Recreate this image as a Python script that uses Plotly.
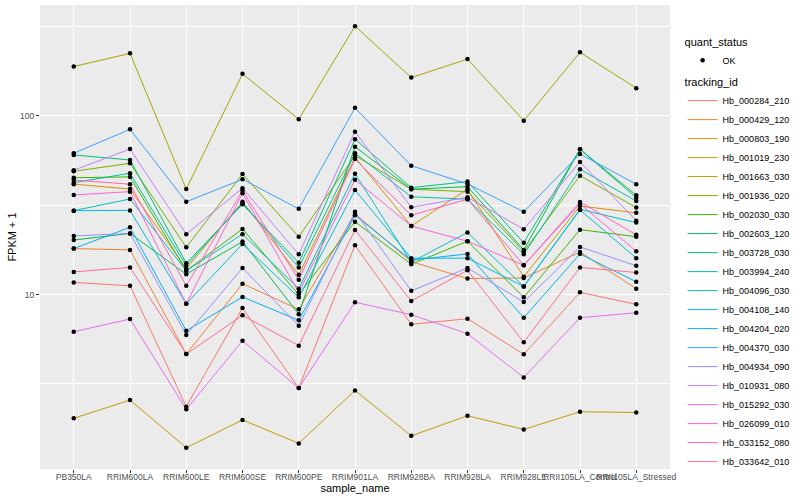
import plotly.graph_objects as go

# ---------------- data (FPKM + 1) ----------------
sample_names = ["PB350LA", "RRIM600LA", "RRIM600LE", "RRIM600SE", "RRIM600PE",
                "RRIM901LA", "RRIM928BA", "RRIM928LA", "RRIM928LE",
                "RRII105LA_Control", "RRII105LA_Stressed"]

tracking_ids = ["Hb_000284_210", "Hb_000429_120", "Hb_000803_190", "Hb_001019_230",
                "Hb_001663_030", "Hb_001936_020", "Hb_002030_030", "Hb_002603_120",
                "Hb_003728_030", "Hb_003994_240", "Hb_004096_030", "Hb_004108_140",
                "Hb_004204_020", "Hb_004370_030", "Hb_004934_090", "Hb_010931_080",
                "Hb_015292_030", "Hb_026099_010", "Hb_033152_080", "Hb_033642_010"]

hb_000284_210 = [11.7, 11.2, 2.36, 8.41, 3.00, 18.9, 6.82, 7.33, 4.63, 10.3, 8.82]
hb_000429_120 = [18.1, 17.8, 4.65, 11.5, 8.27, 28.3, 15.3, 12.3, 12.4, 17.3, 10.8]
hb_000803_190 = [41.5, 39.0, 14.0, 33.1, 12.9, 58.7, 24.2, 38.9, 12.6, 31.3, 28.7]
hb_001019_230 = [2.03, 2.57, 1.39, 1.99, 1.47, 2.91, 1.62, 2.10, 1.76, 2.21, 2.19]
hb_001663_030 = [189, 224, 39.0, 172, 95.8, 318, 164, 208, 94.1, 227, 143]
hb_001936_020 = [49.0, 54.3, 18.4, 47.3, 21.1, 60.0, 38.9, 37.7, 17.4, 46.3, 30.7]
hb_002030_030 = [45.1, 45.6, 13.6, 23.3, 10.0, 25.6, 14.8, 19.9, 9.66, 23.1, 21.1]
hb_002603_120 = [20.2, 22.0, 13.0, 19.8, 7.76, 67.3, 38.9, 40.2, 17.8, 65.1, 36.0]
hb_003728_030 = [60.5, 56.7, 15.0, 32.0, 15.1, 74.1, 39.7, 42.9, 19.5, 65.1, 34.9]
hb_003994_240 = [42.3, 47.8, 14.5, 32.6, 14.2, 61.8, 35.3, 34.2, 16.8, 50.3, 33.4]
hb_004096_030 = [29.5, 34.3, 13.6, 21.8, 10.8, 47.5, 15.2, 22.3, 11.1, 30.0, 25.3]
hb_004108_140 = [29.5, 29.6, 8.89, 19.2, 9.66, 38.5, 16.0, 16.0, 11.1, 29.8, 16.0]
hb_004204_020 = [18.1, 23.8, 6.28, 9.70, 7.18, 27.8, 15.6, 16.9, 7.42, 16.9, 11.8]
hb_004370_030 = [61.8, 84.2, 33.1, 44.2, 30.2, 111, 52.7, 41.6, 29.1, 61.3, 41.5]
hb_004934_090 = [21.3, 22.0, 5.94, 14.1, 6.70, 29.1, 10.5, 14.1, 9.09, 18.5, 14.5]
hb_010931_080 = [49.7, 65.3, 21.8, 39.4, 16.8, 81.7, 30.8, 35.1, 23.2, 55.3, 25.9]
hb_015292_030 = [6.20, 7.30, 2.28, 5.52, 3.00, 9.06, 7.72, 6.04, 3.44, 7.42, 7.92]
hb_026099_010 = [36.1, 37.7, 8.89, 36.9, 10.3, 44.0, 24.2, 19.9, 14.6, 32.2, 17.5]
hb_033152_080 = [43.8, 41.5, 11.2, 38.2, 12.1, 57.4, 27.8, 34.2, 14.6, 33.0, 21.6]
hb_033642_010 = [13.4, 14.2, 4.65, 7.66, 5.18, 23.0, 9.21, 13.7, 5.41, 14.2, 13.3]

series_values = [hb_000284_210, hb_000429_120, hb_000803_190, hb_001019_230,
                 hb_001663_030, hb_001936_020, hb_002030_030, hb_002603_120,
                 hb_003728_030, hb_003994_240, hb_004096_030, hb_004108_140,
                 hb_004204_020, hb_004370_030, hb_004934_090, hb_010931_080,
                 hb_015292_030, hb_026099_010, hb_033152_080, hb_033642_010]

y_tick_vals = [10, 100]
y_tick_text = ["10", "100"]
y_minor_vals = [3.1623, 31.623, 316.23]

# ggplot2 default hue palette for 20 levels
colors = ["#F8766D", "#EA8331", "#D89000", "#C09B00", "#A3A500", "#7CAE00",
          "#39B600", "#00BB4E", "#00BF7D", "#00C1A3", "#00BFC4", "#00BAE0",
          "#00B0F6", "#35A2FF", "#9590FF", "#C77CFF", "#E76BF3", "#FA62DB",
          "#FF62BC", "#FF6C91"]

FONT = "Liberation Sans, Arial, sans-serif"

fig = go.Figure()

# lines
for tid, vals, col in zip(tracking_ids, series_values, colors):
    fig.add_trace(go.Scatter(
        x=sample_names, y=vals, mode="lines", name=tid,
        line=dict(color=col, width=1.0), legend="legend2",
        hoverinfo="skip"))

# points (all OK)
all_x, all_y = [], []
for vals in series_values:
    all_x.extend(sample_names)
    all_y.extend(vals)
fig.add_trace(go.Scatter(
    x=all_x, y=all_y, mode="markers", name="OK",
    marker=dict(color="black", size=4.5, line=dict(width=0)),
    legend="legend"))

fig.update_layout(
    width=800, height=500,
    margin=dict(l=40, r=116, t=5, b=31),
    paper_bgcolor="white", plot_bgcolor="#EBEBEB",
    font=dict(family=FONT, size=9, color="black"),
    xaxis=dict(
        type="category", range=[-0.6, 10.6], categoryorder="array",
        categoryarray=sample_names,
        showgrid=True, gridcolor="white", gridwidth=1.1, zeroline=False,
        ticks="outside", ticklen=3, tickwidth=1, tickcolor="#333333",
        ticklabelstandoff=-3,
        tickangle=0, tickfont=dict(size=8.5, color="#4D4D4D", family=FONT),
        title=dict(text="sample_name", font=dict(size=11, color="black"), standoff=0),
        showline=False, automargin=False),
    yaxis=dict(
        type="log", range=[0.024, 2.621],
        tickvals=y_tick_vals, ticktext=y_tick_text,
        showgrid=True, gridcolor="white", gridwidth=1.1, zeroline=False,
        ticks="outside", ticklen=3, tickwidth=1, tickcolor="#333333",
        tickfont=dict(size=8.5, color="#4D4D4D", family=FONT),
        minor=dict(tickvals=y_minor_vals, showgrid=True, gridcolor="white",
                   gridwidth=0.55, ticks=""),
        title=dict(text="FPKM + 1", font=dict(size=11, color="black"), standoff=1),
        showline=False, automargin=False),
    legend=dict(
        title=dict(text="quant_status", font=dict(size=11, color="black")),
        x=1.02, xanchor="left", y=0.943, yanchor="top",
        font=dict(size=9, color="black"), bgcolor="rgba(0,0,0,0)",
        itemwidth=30, tracegroupgap=0),
    legend2=dict(
        title=dict(text="tracking_id", font=dict(size=11, color="black")),
        x=1.02, xanchor="left", y=0.856, yanchor="top",
        font=dict(size=9, color="black"), bgcolor="rgba(0,0,0,0)",
        itemwidth=30, tracegroupgap=0),
    showlegend=True,
)

fig.write_html("out.html", config={"displayModeBar": False},
               post_script="document.body.style.margin='0';document.body.style.overflow='hidden';")
